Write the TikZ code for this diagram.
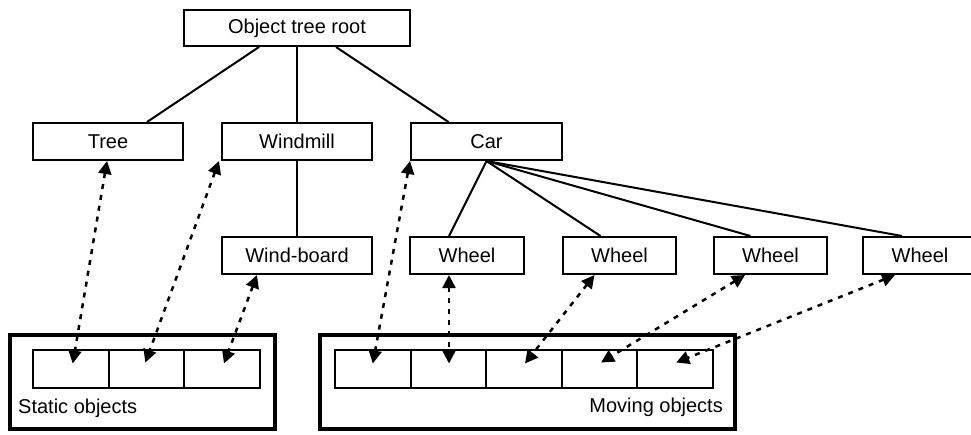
\documentclass[tikz,border=0pt]{standalone}
\usepackage{fontspec}
\setmainfont{Liberation Sans}
\usetikzlibrary{arrows.meta}
\begin{document}
\begin{tikzpicture}[x=1pt,y=-1pt,
 txt/.style={font=\fontsize{20}{24}\selectfont},
 box/.style={draw,line width=2pt,minimum height=37pt,inner sep=0pt,txt},
 frame/.style={draw,line width=4pt,inner sep=0pt},
 cell/.style={draw,line width=2pt,minimum width=75.6pt,minimum height=38pt,inner sep=0pt},
 tie/.style={line width=2pt},
 link/.style={line width=2.5pt,dash pattern=on 5pt off 6pt,{Triangle[length=13pt,width=13pt]}-{Triangle[length=13pt,width=13pt]}}]
\useasboundingbox (0,0) rectangle (971,434);
\clip (0,0) rectangle (971,434);
% frames and cells
\node[frame,minimum width=265pt,minimum height=94pt] (static) at (142.5,382) {};
\node[frame,minimum width=415pt,minimum height=94pt] (moving) at (527.5,382) {};
\node[cell] (s1) at (70.75,368.5) {};
\node[cell] (s2) at (146.35,368.5) {};
\node[cell] (s3) at (221.95,368.5) {};
\node[cell] (m1) at (372.8,368.5) {};
\node[cell] (m2) at (448.4,368.5) {};
\node[cell] (m3) at (524,368.5) {};
\node[cell] (m4) at (599.6,368.5) {};
\node[cell] (m5) at (675.2,368.5) {};
\node[txt,anchor=base west,inner sep=0pt] (slabel) at (18,413) {Static objects};
\node[txt,anchor=base east,inner sep=0pt] (mlabel) at (723,412) {Moving objects};
% tree nodes
\node[box,minimum width=226pt,minimum height=36pt] (root) at (297,28) {Object tree root};
\node[box,minimum width=150pt] (tree) at (108,141.5) {Tree};
\node[box,minimum width=150pt] (windmill) at (297,141.5) {Windmill};
\node[box,minimum width=151pt] (car) at (486.5,141.5) {Car};
\node[box,minimum width=150pt] (windboard) at (297,255.5) {Wind-board};
\node[box,minimum width=114pt] (w1) at (467,255.5) {Wheel};
\node[box,minimum width=113pt] (w2) at (619.5,255.5) {Wheel};
\node[box,minimum width=113pt] (w3) at (770.5,255.5) {Wheel};
\node[box,minimum width=114pt] (w4) at (920,255.5) {Wheel};
% tree edges
\draw[tie] ([xshift=-38pt]root.south) -- ([xshift=39pt]tree.north);
\draw[tie] (root.south) -- (windmill.north);
\draw[tie] ([xshift=39pt]root.south) -- ([xshift=-38pt]car.north);
\draw[tie] (windmill.south) -- (windboard.north);
\draw[tie] (car.south) -- ([xshift=-18pt]w1.north);
\draw[tie] (car.south) -- ([xshift=-19pt]w2.north);
\draw[tie] (car.south) -- ([xshift=-20pt]w3.north);
\draw[tie] (car.south) -- ([xshift=-18pt]w4.north);
% links
\draw[link] ([xshift=-1pt]tree.south) -- ([xshift=2pt,yshift=5pt]s1.center);
\draw[link] ([xshift=-2pt]windmill.south west) -- ([xshift=-1pt,yshift=6pt]s2.center);
\draw[link] ([xshift=-40pt]windboard.south) -- ([xshift=2pt,yshift=5pt]s3.center);
\draw[link] (car.south west) -- ([yshift=5pt]m1.center);
\draw[link] ([xshift=-18pt]w1.south) -- ([xshift=0.6pt,yshift=5pt]m2.center);
\draw[link] ([xshift=-25pt]w2.south) -- ([xshift=1pt,yshift=5pt]m3.center);
\draw[link] ([xshift=-25.5pt]w3.south) -- ([xshift=1.5pt,yshift=6pt]m4.center);
\draw[link] ([xshift=-25pt]w4.south) -- ([xshift=1pt,yshift=6pt]m5.center);
\end{tikzpicture}
\end{document}
